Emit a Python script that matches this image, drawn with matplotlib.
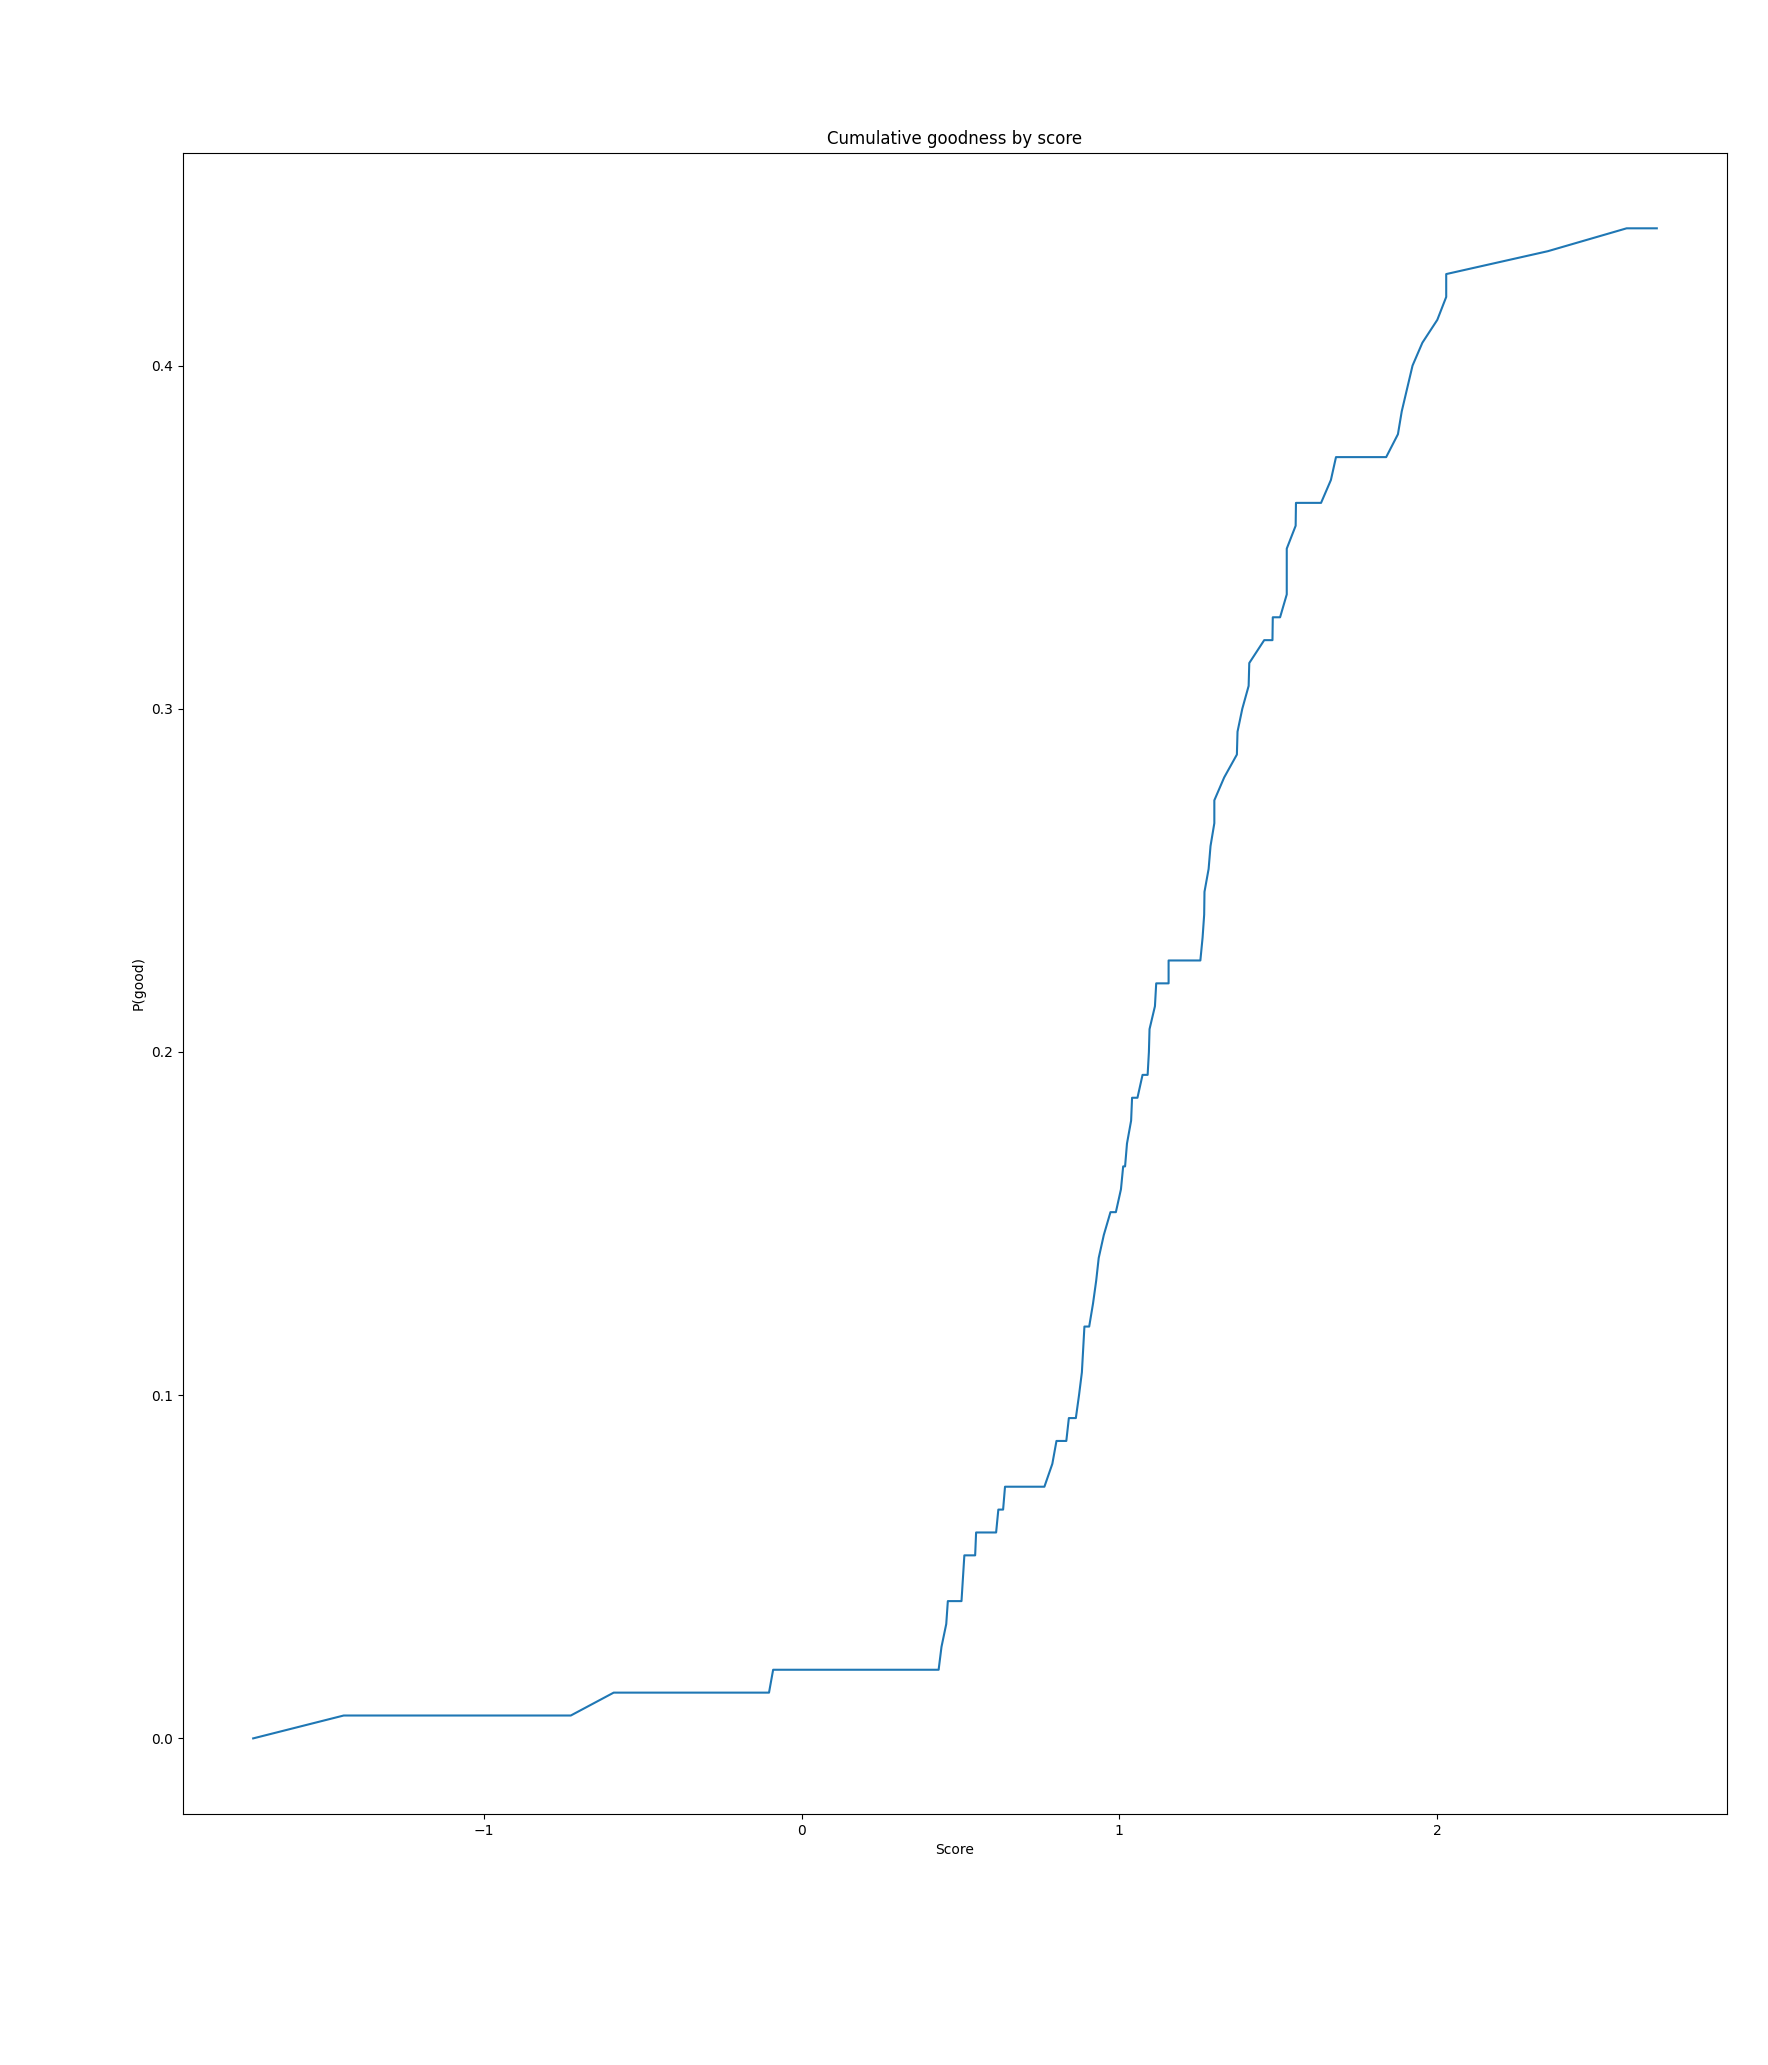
import matplotlib
matplotlib.use("Agg")
import matplotlib.pyplot as plt
import numpy as np

# Vertices of the cumulative curve: score and cumulative count of "good" items (out of 150)
scores = [-1.727, -1.442, -0.727, -0.592, -0.103, -0.090, 0.431, 0.440, 0.455, 0.460,
          0.503, 0.512, 0.546, 0.549, 0.612, 0.619, 0.634, 0.640, 0.764, 0.789,
          0.802, 0.833, 0.841, 0.863, 0.873, 0.882, 0.890, 0.905, 0.917, 0.927,
          0.935, 0.951, 0.972, 0.989, 1.005, 1.012, 1.018, 1.024, 1.037, 1.040,
          1.057, 1.073, 1.089, 1.093, 1.095, 1.112, 1.116, 1.155, 1.155, 1.255,
          1.262, 1.267, 1.268, 1.281, 1.287, 1.299, 1.299, 1.330, 1.370, 1.372,
          1.387, 1.407, 1.409, 1.456, 1.482, 1.483, 1.506, 1.527, 1.527, 1.555,
          1.556, 1.635, 1.666, 1.682, 1.840, 1.877, 1.889, 1.906, 1.923, 1.954,
          2.001, 2.029, 2.029, 2.349, 2.597, 2.692]
good_counts = [0, 1, 1, 2, 2, 3, 3, 4, 5, 6,
               6, 8, 8, 9, 9, 10, 10, 11, 11, 12,
               13, 13, 14, 14, 15, 16, 18, 18, 19, 20,
               21, 22, 23, 23, 24, 25, 25, 26, 27, 28,
               28, 29, 29, 30, 31, 32, 33, 33, 34, 34,
               35, 36, 37, 38, 39, 40, 41, 42, 43, 44,
               45, 46, 47, 48, 48, 49, 49, 50, 52, 53,
               54, 54, 55, 56, 56, 57, 58, 59, 60, 61,
               62, 63, 64, 65, 66, 66]
n_total = 150

p_good = np.array(good_counts) / n_total

fig = plt.figure(figsize=(17.68, 20.65), dpi=100)
ax = fig.add_axes([0.1035, 0.1216, 0.8733, 0.8044])
ax.plot(scores, p_good, color="#1f77b4", linewidth=1.5)
ax.set_title("Cumulative goodness by score")
ax.set_xlabel("Score")
ax.set_ylabel("P(good)")
ax.set_xticks([-1, 0, 1, 2])
ax.set_yticks([0.0, 0.1, 0.2, 0.3, 0.4])

fig.savefig("out.png", dpi=100)
